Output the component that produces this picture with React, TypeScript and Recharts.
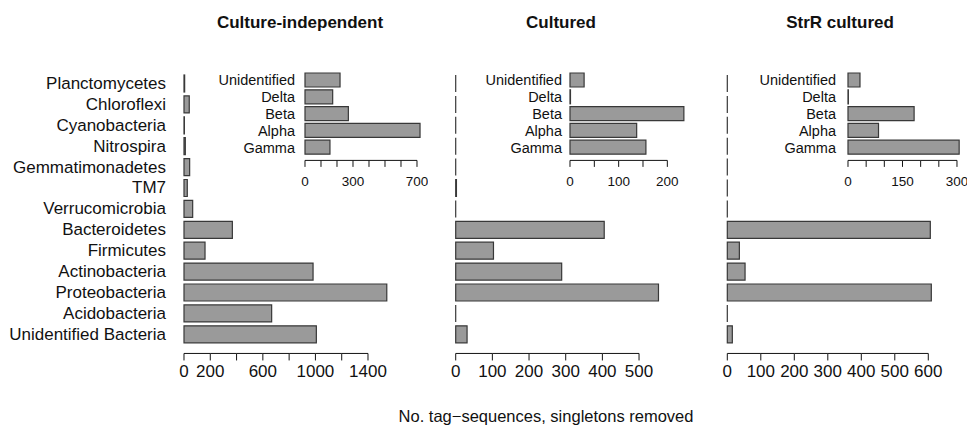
import { Bar, BarChart, XAxis, YAxis } from "recharts";

const FONT = '"Liberation Sans", Arial, Helvetica, sans-serif';
const FILL = "#9a9a9a";
const EDGE = "#383838";
const INK = "#111111";

// phyla, top to bottom
const phyla = [
  "Planctomycetes",
  "Chloroflexi",
  "Cyanobacteria",
  "Nitrospira",
  "Gemmatimonadetes",
  "TM7",
  "Verrucomicrobia",
  "Bacteroidetes",
  "Firmicutes",
  "Actinobacteria",
  "Proteobacteria",
  "Acidobacteria",
  "Unidentified Bacteria",
];
const cultureIndependent = [5, 40, 3, 10, 43, 25, 66, 368, 160, 982, 1543, 667, 1007];
const cultured = [0, 0, 0, 0, 0, 2, 0, 405, 103, 289, 553, 0, 31];
const strRCultured = [0, 0, 0, 0, 0, 0, 0, 606, 36, 53, 609, 0, 15];

// proteobacteria classes, top to bottom
const proteoClasses = ["Unidentified", "Delta", "Beta", "Alpha", "Gamma"];
const proteoCultureIndependent = [219, 173, 271, 719, 156];
const proteoCultured = [29, 1, 234, 137, 156];
const proteoStrR = [33, 1, 182, 84, 306];

const ticksCI = [0, 200, 400, 600, 800, 1000, 1200, 1400];
const labelsCI = [0, 200, 600, 1000, 1400];
const ticksCultured = [0, 100, 200, 300, 400, 500];
const ticksStrR = [0, 100, 200, 300, 400, 500, 600];
const insetTicksCI = [0, 100, 200, 300, 400, 500, 600, 700];
const insetLabelsCI = [0, 300, 700];
const insetTicksCultured = [0, 50, 100, 150, 200];
const insetLabelsCultured = [0, 100, 200];
const insetTicksStrR = [0, 50, 100, 150, 200, 250, 300];
const insetLabelsStrR = [0, 150, 300];

function BarShape(props: any) {
  const { x, y, width, height } = props;
  const w = Math.max(0, width || 0);
  return (
    <path
      d={`M${x},${y}h${w}v${height}h${-w}Z`}
      fill={FILL}
      stroke={EDGE}
      strokeWidth={1.2}
    />
  );
}

interface PanelProps {
  names: string[];
  values: number[];
  left: number;
  zeroX: number;
  ppu: number;
  domainMax: number;
  ticks: number[];
  tickLabels: number[];
  rowTop: number;
  rowStep: number;
  axisY: number;
  barSize: number;
  showNames: boolean;
  nameGap: number;
  nameSize: number;
  tickFont: number;
  tickLen: number;
  labelDy: number;
}

function Panel(p: PanelProps) {
  const data = p.names.map((name, i) => ({ name, value: p.values[i] }));
  const plotW = p.domainMax * p.ppu;
  const yAxisW = p.showNames ? p.zeroX - p.left : 0;
  const marginLeft = p.showNames ? 0 : p.zeroX - p.left;
  const bandBottom = p.rowTop + p.names.length * p.rowStep;
  const xAxisH = 40;
  const top = p.rowTop - 10;
  const width = p.zeroX - p.left + plotW + 6;
  const height = p.axisY - top + xAxisH;
  const step = (p.ticks[1] - p.ticks[0]) * p.ppu;

  const xTick = (t: any) => {
    const { x, y, payload, index } = t;
    const v = payload.value;
    return (
      <g>
        {index > 0 && (
          <line x1={x - step} y1={y} x2={x} y2={y} stroke={INK} strokeWidth={1} />
        )}
        <line x1={x} y1={y} x2={x} y2={y + p.tickLen} stroke={INK} strokeWidth={1} />
        {p.tickLabels.includes(v) && (
          <text
            x={x}
            y={y + p.labelDy}
            textAnchor="middle"
            dominantBaseline="central"
            fontSize={p.tickFont}
            fontFamily={FONT}
            fill={INK}
          >
            {v}
          </text>
        )}
      </g>
    );
  };

  const yTick = (t: any) => (
    <text
      x={t.x}
      y={t.y}
      textAnchor="end"
      dominantBaseline="central"
      fontSize={p.nameSize}
      fontFamily={FONT}
      fill={INK}
    >
      {t.payload.value}
    </text>
  );

  return (
    <div style={{ position: "absolute", left: p.left, top }}>
      <BarChart
        layout="vertical"
        width={width}
        height={height}
        data={data}
        margin={{ top: 10, right: 6, bottom: 0, left: marginLeft }}
      >
        <XAxis
          type="number"
          domain={[0, p.domainMax]}
          ticks={p.ticks}
          interval={0}
          axisLine={false}
          tickLine={false}
          tickSize={0}
          tickMargin={0}
          height={xAxisH}
          tick={xTick}
        />
        <YAxis
          type="category"
          dataKey="name"
          width={yAxisW}
          hide={!p.showNames}
          axisLine={false}
          tickLine={false}
          tickSize={0}
          tickMargin={p.nameGap}
          interval={0}
          tick={yTick}
          padding={{ top: 0, bottom: p.axisY - bandBottom }}
        />
        <Bar dataKey="value" barSize={p.barSize} shape={BarShape} isAnimationActive={false} />
      </BarChart>
    </div>
  );
}

const mainRows = { rowTop: 72.85, rowStep: 20.9, axisY: 353.3, barSize: 17 };
const mainText = { nameSize: 17, tickFont: 17, tickLen: 7, labelDy: 18 };
const insetRows = { rowTop: 71.6, rowStep: 16.8, axisY: 160, barSize: 14 };
const insetText = { nameSize: 14.5, tickFont: 13.5, tickLen: 6.5, labelDy: 21 };

const titleStyle = {
  position: "absolute" as const,
  top: 14,
  fontFamily: FONT,
  fontWeight: 700,
  fontSize: 17,
  lineHeight: "17px",
  color: INK,
  whiteSpace: "nowrap" as const,
  transform: "translateX(-50%)",
};

export default function App() {
  return (
    <div
      style={{
        position: "absolute",
        left: 0,
        top: 0,
        width: 970,
        height: 425,
        background: "#ffffff",
        overflow: "hidden",
      }}
    >
      <Panel
        names={phyla}
        values={cultureIndependent}
        left={0}
        zeroX={184}
        ppu={0.13143}
        domainMax={1600}
        ticks={ticksCI}
        tickLabels={labelsCI}
        showNames
        nameGap={18}
        {...mainRows}
        {...mainText}
      />
      <Panel
        names={phyla}
        values={cultured}
        left={440}
        zeroX={455.7}
        ppu={0.3667}
        domainMax={600}
        ticks={ticksCultured}
        tickLabels={ticksCultured}
        showNames={false}
        nameGap={0}
        {...mainRows}
        {...mainText}
      />
      <Panel
        names={phyla}
        values={strRCultured}
        left={712}
        zeroX={727.3}
        ppu={0.335}
        domainMax={650}
        ticks={ticksStrR}
        tickLabels={ticksStrR}
        showNames={false}
        nameGap={0}
        {...mainRows}
        {...mainText}
      />
      <Panel
        names={proteoClasses}
        values={proteoCultureIndependent}
        left={200}
        zeroX={305}
        ppu={0.16}
        domainMax={730}
        ticks={insetTicksCI}
        tickLabels={insetLabelsCI}
        showNames
        nameGap={10}
        {...insetRows}
        {...insetText}
      />
      <Panel
        names={proteoClasses}
        values={proteoCultured}
        left={480}
        zeroX={570}
        ppu={0.4867}
        domainMax={240}
        ticks={insetTicksCultured}
        tickLabels={insetLabelsCultured}
        showNames
        nameGap={8}
        {...insetRows}
        {...insetText}
      />
      <Panel
        names={proteoClasses}
        values={proteoStrR}
        left={760}
        zeroX={848}
        ppu={0.3633}
        domainMax={312}
        ticks={insetTicksStrR}
        tickLabels={insetLabelsStrR}
        showNames
        nameGap={12}
        {...insetRows}
        {...insetText}
      />
      <div style={{ ...titleStyle, left: 300 }}>Culture-independent</div>
      <div style={{ ...titleStyle, left: 561 }}>Cultured</div>
      <div style={{ ...titleStyle, left: 840 }}>StrR cultured</div>
      <div
        style={{
          position: "absolute",
          top: 408,
          left: 546,
          transform: "translateX(-50%)",
          fontFamily: FONT,
          fontSize: 16.5,
          lineHeight: "16.5px",
          color: INK,
          whiteSpace: "nowrap",
        }}
      >
        No. tag−sequences, singletons removed
      </div>
    </div>
  );
}
